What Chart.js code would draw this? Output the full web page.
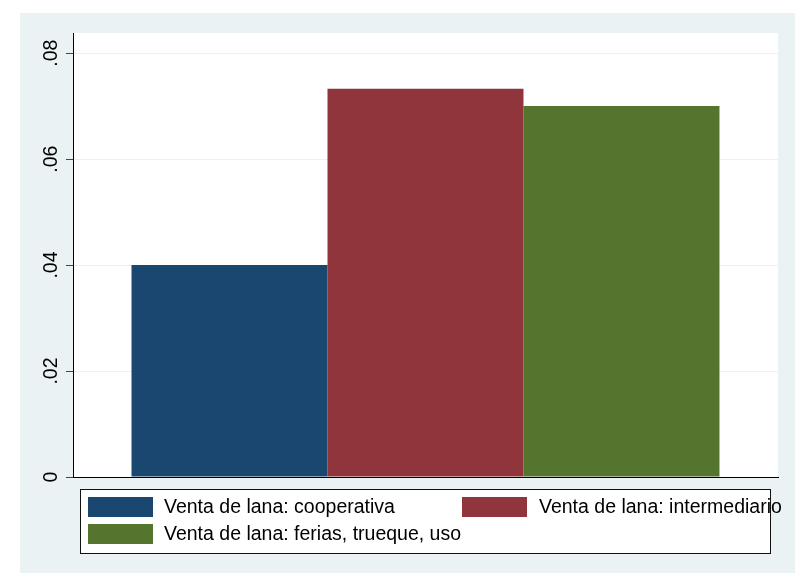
<!DOCTYPE html>
<html>
<head>
<meta charset="utf-8">
<script src="https://cdn.jsdelivr.net/npm/chart.js@4"></script>
<style>
  html, body { margin: 0; padding: 0; background: #ffffff; }
  body { width: 795px; height: 573px; position: relative; overflow: hidden; }
  #wrap { position: absolute; left: 20px; top: 13px; width: 775px; height: 560px; background: rgb(234,242,243); }
  canvas { display: block; }
</style>
</head>
<body>
<div id="wrap"><canvas id="c" width="775" height="560"></canvas></div>
<script>
const categories = [''];
const seriesLabels = ['Venta de lana: cooperativa', 'Venta de lana: intermediario', 'Venta de lana: ferias, trueque, uso'];
const seriesValues = [0.0400, 0.0733, 0.0700];
const seriesColors = ['#1a476f', '#90353b', '#55752f'];
const yTicks = [0, 0.02, 0.04, 0.06, 0.08];
const yTickLabels = ['0', '.02', '.04', '.06', '.08'];
const yMax = 0.0838;

const FONT = 'Liberation Sans, Arial, sans-serif';

const plotBgPlugin = {
  id: 'plotBg',
  beforeDraw(chart) {
    const a = chart.chartArea;
    const ctx = chart.ctx;
    ctx.save();
    ctx.fillStyle = '#ffffff';
    ctx.fillRect(a.left, a.top, a.right - a.left, a.bottom - a.top);
    ctx.restore();
  }
};

const legendPlugin = {
  id: 'stataLegend',
  afterDraw(chart) {
    const ctx = chart.ctx;
    const ds = chart.data.datasets;
    ctx.save();
    ctx.fillStyle = '#ffffff';
    ctx.fillRect(60, 476, 690, 64);
    ctx.strokeStyle = '#111111';
    ctx.lineWidth = 1;
    ctx.strokeRect(60.5, 476.5, 690, 64);
    const slots = [
      { sx: 68, sy: 484, tx: 144 },
      { sx: 442, sy: 484, tx: 519 },
      { sx: 68, sy: 511, tx: 144 }
    ];
    ctx.font = '19.5px ' + FONT;
    ctx.textBaseline = 'middle';
    ctx.textAlign = 'left';
    ds.forEach((d, i) => {
      const s = slots[i];
      ctx.fillStyle = d.backgroundColor;
      ctx.fillRect(s.sx, s.sy, 65, 20);
      ctx.fillStyle = '#000000';
      ctx.fillText(d.label, s.tx, s.sy + 10.5);
    });
    ctx.restore();
  }
};

new Chart(document.getElementById('c'), {
  type: 'bar',
  data: {
    labels: categories,
    datasets: seriesLabels.map((lab, i) => ({
      label: lab,
      data: [seriesValues[i]],
      backgroundColor: seriesColors[i],
      borderWidth: 0,
      barPercentage: 1.0,
      categoryPercentage: 0.834
    }))
  },
  options: {
    responsive: false,
    animation: false,
    devicePixelRatio: 1,
    layout: { padding: { left: 0, right: 17, top: 20, bottom: 96 } },
    plugins: {
      legend: { display: false },
      tooltip: { enabled: false },
      title: { display: false }
    },
    scales: {
      x: {
        type: 'category',
        display: true,
        grid: { display: false, drawTicks: false },
        ticks: { display: false },
        border: { display: true, color: '#000000', width: 1 },
        afterFit(scale) { scale.height = 0; }
      },
      y: {
        type: 'linear',
        min: 0,
        max: yMax,
        afterBuildTicks(scale) { scale.ticks = yTicks.map(v => ({ value: v })); },
        grid: {
          color: 'rgb(234,242,243)',
          lineWidth: 1,
          drawTicks: true,
          tickLength: 7,
          tickColor: '#444444'
        },
        border: { display: true, color: '#000000', width: 1 },
        ticks: {
          color: '#000000',
          font: { family: FONT, size: 19.5 },
          minRotation: 90,
          maxRotation: 90,
          crossAlign: 'center',
          padding: 1,
          callback(value) {
            const idx = yTicks.findIndex(t => Math.abs(t - value) < 1e-9);
            return idx >= 0 ? yTickLabels[idx] : '';
          }
        },
        afterFit(scale) { scale.width = 53; }
      }
    }
  },
  plugins: [plotBgPlugin, legendPlugin]
});
</script>
</body>
</html>
